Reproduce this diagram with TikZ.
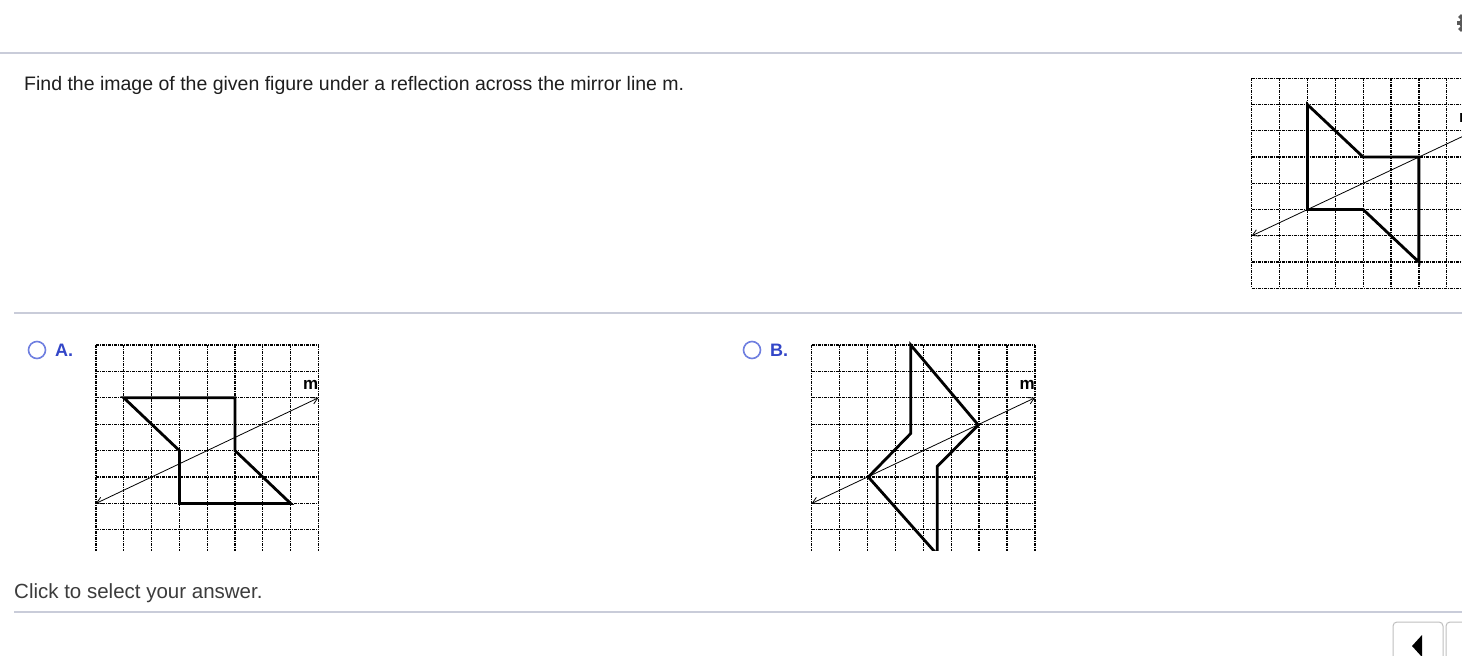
\documentclass[tikz,border=0pt]{standalone}
\usepackage{fontspec}
\setmainfont{Liberation Sans}
\usetikzlibrary{arrows.meta}

\definecolor{rulegray}{HTML}{C9CCD9}
\definecolor{choiceblue}{HTML}{3346C8}
\definecolor{radioblue}{HTML}{6F7FE0}
\definecolor{prompttext}{HTML}{1E1E1E}
\definecolor{hinttext}{HTML}{3C3C3C}

\tikzset{
  rulebar/.style={rulegray, line width=2pt},
  gridline/.style={black, line width=1.3pt, dash pattern=on 3pt off 1pt on 1pt off 1pt},
  shapeline/.style={black, line width=2.8pt},
  mirror/.style={black, line width=0.8pt},
  barb/.tip={Straight Barb[length=6pt,width=7pt]},
  mlabel/.style={font=\fontsize{17pt}{19pt}\selectfont\bfseries, inner sep=0pt},
  questiontext/.style={font=\fontsize{19.5pt}{22pt}\selectfont, inner sep=0pt},
  hintstyle/.style={font=\fontsize{20.5pt}{23pt}\selectfont, inner sep=0pt},
  radiobtn/.style={circle, draw=radioblue, line width=1.6pt, minimum size=17pt, inner sep=0pt},
  choicelabel/.style={font=\fontsize{18pt}{21pt}\selectfont\bfseries, text=choiceblue, inner sep=0pt},
  navbtn/.style={draw=black!25, line width=1pt, rounded corners=4pt, fill=white}
}

\begin{document}
\begin{tikzpicture}[x=1pt,y=-1pt]
\path[use as bounding box, fill=white] (0,0) rectangle (1462,656);
\begin{scope}
\clip (0,0) rectangle (1462,656);

% separators
\draw[rulebar] (0,53) -- (1462,53);
\draw[rulebar] (14,313) -- (1462,313);
\draw[rulebar] (14,612) -- (1462,612);

% settings icon, cut at the edge
\fill[black!65] (1467,23) circle (7.5);
\foreach \a in {0,45,...,315}
  \fill[black!65, rotate around={\a:(1467,23)}] (1465,12.5) rectangle (1469,16);
\fill[white] (1467,23) circle (2.5);

\node[questiontext, text=prompttext, anchor=base west] (question) at (24,90)
  {Find the image of the given figure under a reflection across the mirror line m.};

% given figure
\begin{scope}[shift={(1251.7,78.3)}, x=27.86pt, y=-26.25pt]
\foreach \r in {0,...,8} \draw[gridline] (0,\r) -- (8.6,\r);
\foreach \c in {0,...,8} \draw[gridline] (\c,0) -- (\c,8);
\coordinate (given-a) at (0,6);
\coordinate (given-b) at (9,1.5);
\draw[mirror, barb-] (given-a) -- (given-b);
\draw[shapeline] (2,1) -- (4,3) -- (6,3) -- (6,7) -- (4,5) -- (2,5) -- cycle;
\node[mlabel] (given-m) at (7.72,1.52) {m};
\end{scope}

% choice A
\node[radiobtn] (radioA) at (37,350) {};
\node[choicelabel, anchor=west] (labelA) at (55,350) {A.};
\begin{scope}
\clip (90,338) rectangle (325,550);
\begin{scope}[shift={(96,345)}, x=27.8pt, y=-26.4pt]
\foreach \r in {0,...,7} \draw[gridline] (0,\r) -- (8,\r);
\foreach \c in {0,...,8} \draw[gridline] (\c,0) -- (\c,8);
\coordinate (optA-a) at (0,6);
\coordinate (optA-b) at (8,2);
\draw[mirror, barb-barb] (optA-a) -- (optA-b);
\draw[shapeline] (1,2) -- (3,4) -- (3,6) -- (7,6) -- (5,4) -- (5,2) -- cycle;
\node[mlabel] (optA-m) at (7.72,1.52) {m};
\end{scope}
\end{scope}

% choice B
\node[radiobtn] (radioB) at (752,350) {};
\node[choicelabel, anchor=west] (labelB) at (770,350) {B.};
\begin{scope}
\clip (805,338) rectangle (1040,550);
\begin{scope}[shift={(811.7,345)}, x=27.9pt, y=-26.4pt]
\foreach \r in {0,...,7} \draw[gridline] (0,\r) -- (8,\r);
\foreach \c in {0,...,8} \draw[gridline] (\c,0) -- (\c,8);
\coordinate (optB-a) at (0,6);
\coordinate (optB-b) at (8,2);
\draw[mirror, barb-barb] (optB-a) -- (optB-b);
\draw[shapeline] (3.55,0) -- (5.97,3.03) -- (4.5,4.6) -- (4.5,7.94) -- (2.03,5) -- (3.55,3.35) -- cycle;
\node[mlabel] (optB-m) at (7.72,1.52) {m};
\end{scope}
\end{scope}

\node[hintstyle, text=hinttext, anchor=base west] (hint) at (14,598) {Click to select your answer.};

% navigation buttons
\draw[navbtn] (1393,622) rectangle (1443,676);
\draw[navbtn] (1446,622) rectangle (1500,676);
\fill[black] (1412,646) -- (1422,635) -- (1422,657) -- cycle;
\end{scope}
\end{tikzpicture}
\end{document}
